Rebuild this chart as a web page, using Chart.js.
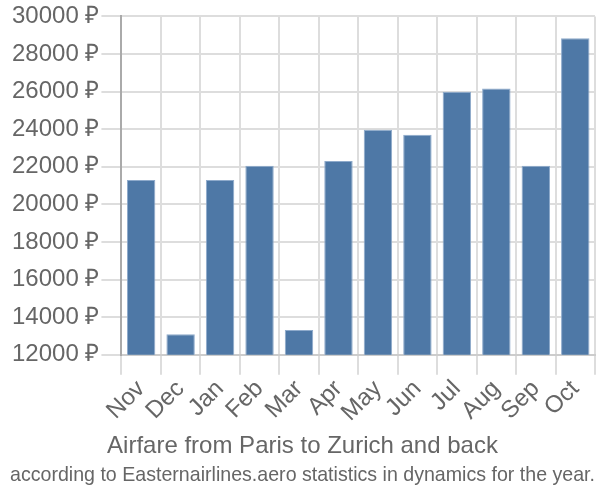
<!DOCTYPE html>
<html>
<head>
<meta charset="utf-8">
<script src="https://cdn.jsdelivr.net/npm/chart.js@4"></script>
<style>
  html, body { margin: 0; padding: 0; background: #fff; }
  #wrap { width: 600px; height: 500px; }
</style>
</head>
<body>
<div id="wrap"><canvas id="chart"></canvas></div>
<script>
const months = ['Nov', 'Dec', 'Jan', 'Feb', 'Mar', 'Apr', 'May', 'Jun', 'Jul', 'Aug', 'Sep', 'Oct'];
const prices = [21300, 13090, 21300, 22050, 13320, 22310, 23970, 23700, 25990, 26170, 22050, 28840];
const titleText = 'Airfare from Paris to Zurich and back';
const subtitleText = 'according to Easternairlines.aero statistics in dynamics for the year.';

const grey = '#666666';

const data = {
    labels: months,
    datasets: [{
        label: 'Price',
        data: prices,
        backgroundColor: '#4e78a6',
        borderColor: '#8eaacb',
        borderWidth: 1,
    }]
};

// at the bottom the subtitle box ends up above the title box,
// so the bottom line goes in "title" and the heading in "subtitle"
const config = {
    type: 'bar',
    data: data,
    options: {
        responsive: true,
        maintainAspectRatio: false,
        animation: false,
        layout: { padding: { left: 10, right: 5, top: 3, bottom: 0 } },
        plugins: {
            legend: { display: false },
            tooltip: { enabled: false },
            subtitle: {
                display: true,
                text: titleText,
                position: 'bottom',
                color: grey,
                font: { family: 'Liberation Sans', size: 24, weight: 'normal' },
                padding: { top: 5, bottom: 2 }
            },
            title: {
                display: true,
                text: subtitleText,
                position: 'bottom',
                color: grey,
                font: { family: 'Liberation Sans', size: 20.8, weight: 'normal' },
                padding: { top: 0, bottom: 12 }
            }
        },
        scales: {
            x: {
                grid: { color: '#dddddd', lineWidth: 2, tickLength: 20 },
                border: { color: '#cccccc', width: 2 },
                ticks: {
                    color: grey,
                    autoSkip: false,
                    maxRotation: 45,
                    minRotation: 45,
                    font: { family: 'Liberation Sans', size: 24 },
                    padding: 0
                }
            },
            y: {
                min: 12000,
                max: 30000,
                grid: { color: '#dddddd', lineWidth: 2, tickLength: 20 },
                border: { color: '#aaaaaa', width: 2 },
                ticks: {
                    stepSize: 2000,
                    color: grey,
                    padding: 2,
                    font: { family: 'Liberation Sans', size: 24 },
                    callback: (v) => v + ' ₽'
                }
            }
        }
    }
};

new Chart(document.getElementById('chart'), config);
</script>
</body>
</html>
